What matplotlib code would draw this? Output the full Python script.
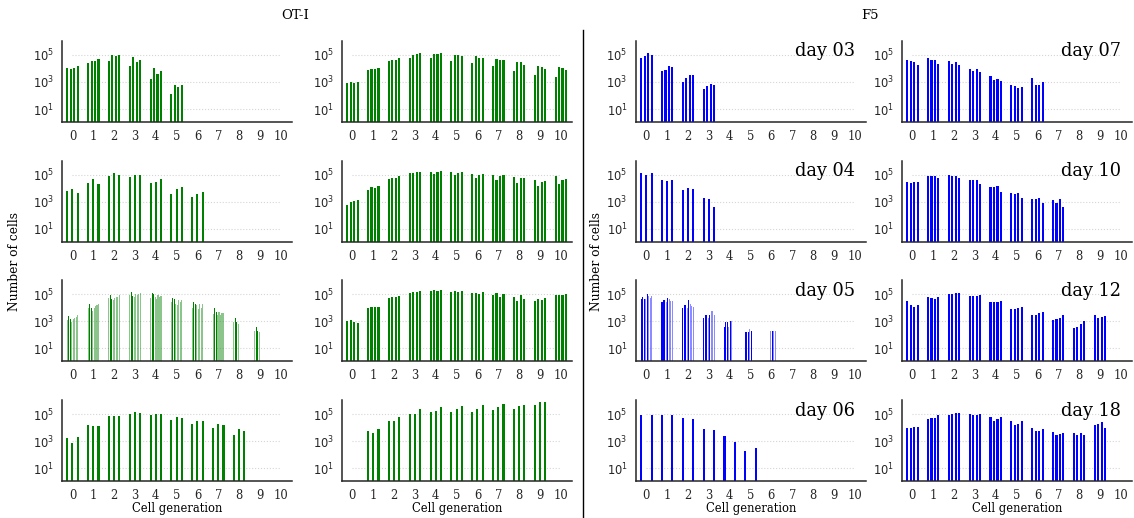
import numpy as np
import matplotlib
matplotlib.use('Agg')
import matplotlib.pyplot as plt
from matplotlib.lines import Line2D

nan = np.nan

# cell counts per generation (rows) and replicate (columns)
generations = np.arange(11)

# OT-I, left column
oti_a1 = [[1e4, 8.5e3, 1.1e4, 1.6e4], [2.4e4, 3.8e4, 3.5e4, 4.8e4], [3.8e4, 1e5, 8e4, 1e5],
          [1.4e4, 6.6e4, 2.8e4, 4.5e4], [1.6e3, 1e4, 3.8e3, 6.7e3], [120, 560, 450, 600]]
oti_a2 = [[5.9e3, 8.7e3, 4.7e3], [2.6e4, 5e4, 2.2e4], [8e4, 1.4e5, 9.5e4], [6.7e4, 1.05e5, 9.5e4],
          [2.3e4, 2.9e4, 4.6e4], [3.8e3, 9.3e3, 1.2e4], [2.2e3, 3.8e3, 5e3]]
oti_a3 = [[1.3e3, 2.6e3, 1.4e3, 900, 1.5e3, 1.7e3, 2.2e3, 2.7e3],
          [9e3, 2e4, 9e3, 6e3, 1e4, 1.4e4, 1.6e4, 2e4],
          [5e4, 9e4, 4e4, 3.5e4, 5e4, 6e4, 6e4, 9e4],
          [8e4, 1.5e5, 7e4, 6e4, 1e5, 9e4, 1e5, 1.3e5],
          [5e4, 1.2e5, 1e5, 6e4, 4e4, 8e4, 6e4, 7e4],
          [2.5e4, 5e4, 4.5e4, 2e4, 1.5e4, 3.5e4, 2.5e4, 3.5e4],
          [1e4, 2.5e4, 2e4, 1.5e4, 8e3, 2e4, 1e4, 1.8e4],
          [3.5e3, 9e3, 5e3, 3e3, 5e3, 3e3, 4e3, 4e3],
          [900, 1.8e3, 900, 600, nan, nan, nan, nan],
          [200, 350, 200, 150, nan, nan, nan, nan]]
oti_a4 = [[1.6e3, 680, 1.9e3], [1.6e4, 1.35e4, 1.35e4], [7e4, 7e4, 7e4], [1.05e5, 1.4e5, 1.25e5],
          [8e4, 1.05e5, 9.5e4], [3.9e4, 6e4, 5.4e4], [2e4, 3.1e4, 2.9e4], [8.7e3, 1.8e4, 1.6e4],
          [3e3, 7.4e3, 5.9e3]]

# OT-I, right column
oti_b1 = [[800, 930, 850, 930], [7.4e3, 8.7e3, 8.7e3, 1.1e4], [3.3e4, 4.4e4, 4.4e4, 6.3e4],
          [6.3e4, 1e5, 1.1e5, 1.3e5], [5.7e4, 1.1e5, 1.1e5, 1.3e5], [3.7e4, 9e4, 1e5, 8.5e4],
          [2.5e4, 7.6e4, 6.3e4, 5.4e4], [1.4e4, 4.9e4, 4.1e4, 3.9e4], [6.9e3, 2.8e4, 2.8e4, 1.9e4],
          [3.2e3, 1.4e4, 1.3e4, 8.3e3], [2.5e3, 1.2e4, 1e4, 7.4e3]]
oti_b2 = [[590, 950, 1.1e3, 1.35e3], [8.1e3, 1.3e4, 1.07e4, 1.4e4], [4.8e4, 6.3e4, 6.3e4, 8e4],
          [1.4e5, 1.3e5, 1.5e5, 1.7e5], [1.7e5, 1.2e5, 1.7e5, 1.9e5], [1.5e5, 9.5e4, 1.3e5, 1.5e5],
          [1.2e5, 6e4, 1e5, 1.2e5], [9e4, 4.4e4, 8e4, 9e4], [6.8e4, 2.6e4, 5.7e4, 5.7e4],
          [3.9e4, 1.4e4, 2.9e4, 3.3e4], [7.6e4, 2.2e4, 4.1e4, 5.1e4]]
oti_b3 = [[1.1e3, 1.2e3, 800, 700], [1e4, 1.1e4, 1.1e4, 1.2e4], [5.5e4, 6e4, 6e4, 7e4],
          [1.2e5, 1.5e5, 1.5e5, 1.6e5], [1.6e5, 2e5, 1.8e5, 2e5], [1.5e5, 1.7e5, 1.5e5, 1.7e5],
          [1.2e5, 1.3e5, 1.1e5, 1.4e5], [8e4, 1.2e5, 6e4, 1.1e5], [6e4, 3e4, 8e4, 4e4],
          [3e4, 4e4, 3.5e4, 5e4], [8e4, 9e4, 8e4, 1e5]]
oti_b4 = [[nan, nan, nan], [5.4e3, 3.9e3, 7.9e3], [3.2e4, 2.9e4, 5.7e4], [9.5e4, 1.05e5, 2.2e5],
          [1.4e5, 1.7e5, 3.2e5], [1.4e5, 2.5e5, 3.8e5], [1.4e5, 2.5e5, 4.6e5],
          [1.9e5, 3.2e5, 5.7e5], [2.5e5, 3.8e5, 5e5], [5e5, 7.6e5, 7.6e5]]

# F5, by harvest day
f5_d03 = [[6.3e4, 8.5e4, 1.3e5, 1e5], [5.9e3, 7e3, 1.6e4, 1.2e4], [980, 1.9e3, 3.5e3, 3e3],
          [280, 470, 700, 550]]
f5_d04 = [[1.3e5, 1.05e5, 1.4e5], [3.8e4, 3.4e4, 3.8e4], [7e3, 1.05e4, 9.3e3], [2e3, 1.7e3, 440]]
f5_d05 = [[4e4, 6e4, 4.5e4, 4.5e4, 1e5, 7e4, 5e4, 7e4],
          [2.5e4, 3.5e4, 3.5e4, 2.8e4, 5e4, 4e4, 3.2e4, 3e4],
          [1e4, 1.5e4, 1.5e4, 1e4, 3.5e4, 2e4, 1.3e4, 1.2e4],
          [1.8e3, 3e3, 3e3, 1.8e3, 3e3, 6e3, 6e3, 3e3],
          [400, 900, 800, 400, 1.1e3, 1e3, nan, nan],
          [170, 170, 160, 250, 180, nan, nan, nan],
          [nan, nan, nan, 200, 200, 200, 200, nan]]
f5_d06 = [[9e4, 9e4], [8e4, 9e4], [5e4, 4.5e4], [8e3, 7e3], [2.5e3, 900], [200, 300]]
f5_d07 = [[3.9e4, 3.5e4, 2.9e4, 1.7e4], [5.7e4, 3.9e4, 3.9e4, 2.2e4], [3.5e4, 2.2e4, 2.9e4, 1.7e4],
          [8.5e3, 6.5e3, 8.5e3, 5.5e3], [2.8e3, 1.4e3, 1.6e3, 1.2e3], [620, 520, 340, 450],
          [1.8e3, 620, 620, 910]]
f5_d10 = [[2.9e4, 2.6e4, 2.9e4, 2.9e4], [7.6e4, 7.6e4, 7.6e4, 6.3e4], [1.05e5, 7.6e4, 7.6e4, 5.7e4],
          [4.3e4, 3.9e4, 3.9e4, 2.2e4], [1.25e4, 1.25e4, 1.4e4, 5.4e3], [4.6e3, 3.6e3, 4.6e3, 2.1e3],
          [1.7e3, 1.6e3, 1.95e3, 800], [1.3e3, 760, 1.6e3, 430]]
f5_d12 = [[3e4, 1.5e4, 1.2e4, 1.5e4], [6e4, 5e4, 4e4, 6e4], [1e5, 1e5, 1.2e5, 1.2e5],
          [7e4, 7e4, 7e4, 9e4], [2.5e4, 2.5e4, 2.5e4, 3e4], [8e3, 8e3, 9e3, 1.2e4],
          [3e3, 3e3, 4e3, 5e3], [1.2e3, 1.5e3, 1.8e3, 3e3], [300, 400, 600, 1e3],
          [3e3, 1.8e3, 2e3, 2.5e3]]
f5_d18 = [[1e4, 1e4, 1.2e4, 1.2e4], [4e4, 5e4, 5e4, 8e4], [9e4, 1.1e5, 1.2e5, 1.2e5],
          [1e5, 9e4, 9e4, 1.1e5], [6e4, 3e4, 4e4, 6e4], [3e4, 1.5e4, 2e4, 3e4],
          [1e4, 6e3, 6e3, 8e3], [5e3, 3e3, 3.5e3, 4e3], [4e3, 3e3, 4e3, 3e3],
          [1.5e4, 2e4, 2.5e4, 1e4]]

day_labels = ['day 03', 'day 04', 'day 05', 'day 06', 'day 07', 'day 10', 'day 12', 'day 18']
mixed_alpha = [0.45, 1.0, 1.0, 0.45, 0.45, 0.45, 0.45, 0.45]
f5_mixed_alpha = [1.0, 1.0, 1.0, 0.45, 1.0, 0.45, 0.45, 0.45]

plt.rcParams['font.family'] = ['DejaVu Serif']
plt.rcParams['mathtext.fontset'] = 'dejavusans'

fig = plt.figure(figsize=(11.34, 5.18), dpi=100)
col_left = [0.0547, 0.3016, 0.5608, 0.7954]
row_bottom = [0.765, 0.5334, 0.3031, 0.0714]
ax_w, ax_h = 0.203, 0.1564
tick_size = 8.3


def draw_panel(ax, counts, color, alphas=None):
    counts = np.asarray(counts, dtype=float)
    n = counts.shape[1]
    offsets = np.linspace(-0.25, 0.25, n)
    width = 0.1 if n <= 4 else 0.05
    if alphas is None:
        alphas = [1.0] * n
    ax.set_yscale('log')
    gens = generations[:len(counts)]
    for k in range(n):
        ok = ~np.isnan(counts[:, k])
        ax.bar(gens[ok] + offsets[k], counts[ok, k], width=width, color=color,
               alpha=alphas[k], linewidth=0, zorder=2)
    ax.hlines([1e1, 1e3, 1e5], 0, 10, colors='#d5d5d5', linestyles=':', linewidth=0.8, zorder=1)
    ax.set_xlim(-0.5, 10.55)
    ax.set_ylim(1.15, 1.1e6)
    ax.set_xticks(generations)
    ax.set_xticklabels([str(g) for g in generations], fontsize=tick_size)
    ax.set_yticks([1e1, 1e3, 1e5])
    ax.set_yticklabels([r'$10^{1}$', r'$10^{3}$', r'$10^{5}$'], fontsize=tick_size,
                       family='DejaVu Sans')
    ax.minorticks_off()
    ax.tick_params(length=0, pad=6, colors='#262626')
    for side in ('top', 'right'):
        ax.spines[side].set_visible(False)
    for side in ('left', 'bottom'):
        ax.spines[side].set_color('#262626')
        ax.spines[side].set_linewidth(1.1)


columns = [
    ([oti_a1, oti_a2, oti_a3, oti_a4], 'green', [None, None, mixed_alpha, None]),
    ([oti_b1, oti_b2, oti_b3, oti_b4], 'green', [None] * 4),
    ([f5_d03, f5_d04, f5_d05, f5_d06], 'blue', [None, None, f5_mixed_alpha, None]),
    ([f5_d07, f5_d10, f5_d12, f5_d18], 'blue', [None] * 4),
]

for c, (panels, color, alpha_list) in enumerate(columns):
    for r, counts in enumerate(panels):
        ax = fig.add_axes([col_left[c], row_bottom[r], ax_w, ax_h])
        draw_panel(ax, counts, color, alpha_list[r])
        if c >= 2:
            ax.text(0.95, 0.98, day_labels[(c - 2) * 4 + r], transform=ax.transAxes,
                    ha='right', va='top', fontsize=12.8)
        if r == 3:
            ax.set_xlabel('Cell generation', fontsize=tick_size, labelpad=0)

fig.text(0.26, 0.97, 'OT-I', ha='center', va='center', fontsize=9.5)
fig.text(0.767, 0.97, 'F5', ha='center', va='center', fontsize=9.5)
fig.text(0.013, 0.496, 'Number of cells', rotation=90, ha='center', va='center', fontsize=8.8)
fig.text(0.526, 0.496, 'Number of cells', rotation=90, ha='center', va='center', fontsize=8.8)
fig.add_artist(Line2D([0.514, 0.514], [0.0, 0.942], transform=fig.transFigure,
                      color='black', linewidth=1.0))

fig.savefig('out.png', dpi=100)
